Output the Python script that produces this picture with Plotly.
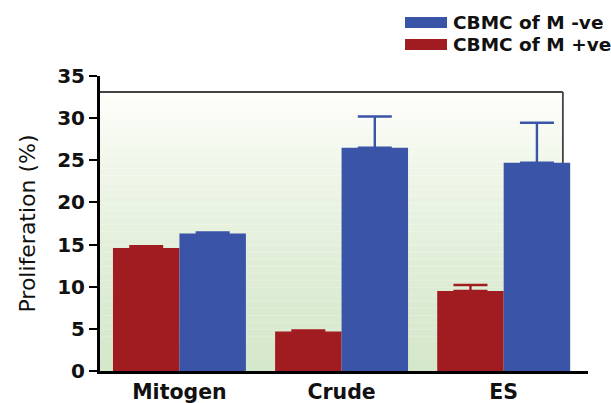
import plotly.graph_objects as go

# Stimulation conditions
categories = ["Mitogen", "Crude", "ES"]

# Mean proliferation (%) and upper SEM for each cord-blood group
series_names = ["CBMC of M +ve", "CBMC of M -ve"]
pos_values = [14.6, 4.7, 9.5]
pos_errors = [0.2, 0.1, 0.7]
neg_values = [16.3, 26.5, 24.7]
neg_errors = [0.15, 3.7, 4.75]

y_ticks = [0, 5, 10, 15, 20, 25, 30, 35]

RED = "#a11c20"
BLUE = "#3a54a8"
FONT = "DejaVu Sans"

fig = go.Figure()

fig.add_trace(go.Bar(
    x=categories, y=pos_values, name=series_names[0],
    marker=dict(color=RED, line=dict(width=0)),
    error_y=dict(type="data", array=pos_errors, arrayminus=[0] * len(pos_errors),
                 symmetric=False, color=RED, thickness=2.4, width=17),
))
fig.add_trace(go.Bar(
    x=categories, y=neg_values, name=series_names[1],
    marker=dict(color=BLUE, line=dict(width=0)),
    error_y=dict(type="data", array=neg_errors, arrayminus=[0] * len(neg_errors),
                 symmetric=False, color=BLUE, thickness=2.4, width=17),
))

# Framed background panel with a white-to-pale-green vertical gradient
x0, x1 = -0.49, 2.365
top = 33.1
shapes = []
n_bands = 40
c_bot = (214, 232, 204)
c_top = (254, 254, 250)
for i in range(n_bands):
    t = (i / (n_bands - 1)) ** 1.4
    col = tuple(round(c_bot[k] + (c_top[k] - c_bot[k]) * t) for k in range(3))
    shapes.append(dict(
        type="rect", xref="x", yref="y", layer="below",
        x0=x0, x1=x1, y0=top * i / n_bands, y1=top * (i + 1) / n_bands,
        fillcolor="rgb(%d,%d,%d)" % col, line=dict(width=0),
    ))
shapes.append(dict(type="line", xref="x", yref="y", layer="below",
                   x0=x0, x1=x1, y0=top, y1=top,
                   line=dict(color="#444444", width=1.8)))
shapes.append(dict(type="line", xref="x", yref="y", layer="below",
                   x0=x1, x1=x1, y0=0, y1=top,
                   line=dict(color="#444444", width=1.8)))

# Legend drawn as wide colour patches with labels (blue entry on top)
W, H = 611, 403
ml, mr, mt, mb = 100, 23, 76, 32
pw, ph = W - ml - mr, H - mt - mb


def px_x(p):
    return (p - ml) / pw


def px_y(p):
    return (H - mb - p) / ph


annotations = []
legend_rows = [(series_names[1], BLUE, 22.5), (series_names[0], RED, 44.5)]
for name, col, cy in legend_rows:
    shapes.append(dict(type="rect", xref="paper", yref="paper",
                       x0=px_x(405), x1=px_x(447), y0=px_y(cy + 5.5), y1=px_y(cy - 5.5),
                       fillcolor=col, line=dict(width=0)))
    annotations.append(dict(xref="paper", yref="paper", x=px_x(451), y=px_y(cy),
                            xanchor="left", yanchor="middle", showarrow=False,
                            text=name,
                            font=dict(family=FONT, size=18.5, color="#111111", weight="bold")))

fig.update_layout(
    width=W, height=H,
    margin=dict(l=ml, r=mr, t=mt, b=mb),
    paper_bgcolor="white", plot_bgcolor="white",
    barmode="group", bargap=0.18, bargroupgap=0,
    showlegend=False,
    shapes=shapes, annotations=annotations,
    xaxis=dict(
        range=[-0.49, 2.52], showline=True, linecolor="black", linewidth=3,
        ticks="", showgrid=False, zeroline=False, automargin=False,
        tickfont=dict(family=FONT, size=20.5, color="#111111", weight="bold"),
        ticklabelstandoff=0,
    ),
    yaxis=dict(
        range=[0, 35], tickvals=y_ticks, showline=True, linecolor="black", linewidth=3,
        ticks="outside", ticklen=8, tickwidth=2.2, tickcolor="black",
        showgrid=False, zeroline=False, automargin=False,
        tickfont=dict(family=FONT, size=20, color="#111111", weight="bold"),
        title=dict(text="Proliferation (%)", standoff=16,
                   font=dict(family=FONT, size=22, color="#111111")),
    ),
)

fig.write_html("out.html")
